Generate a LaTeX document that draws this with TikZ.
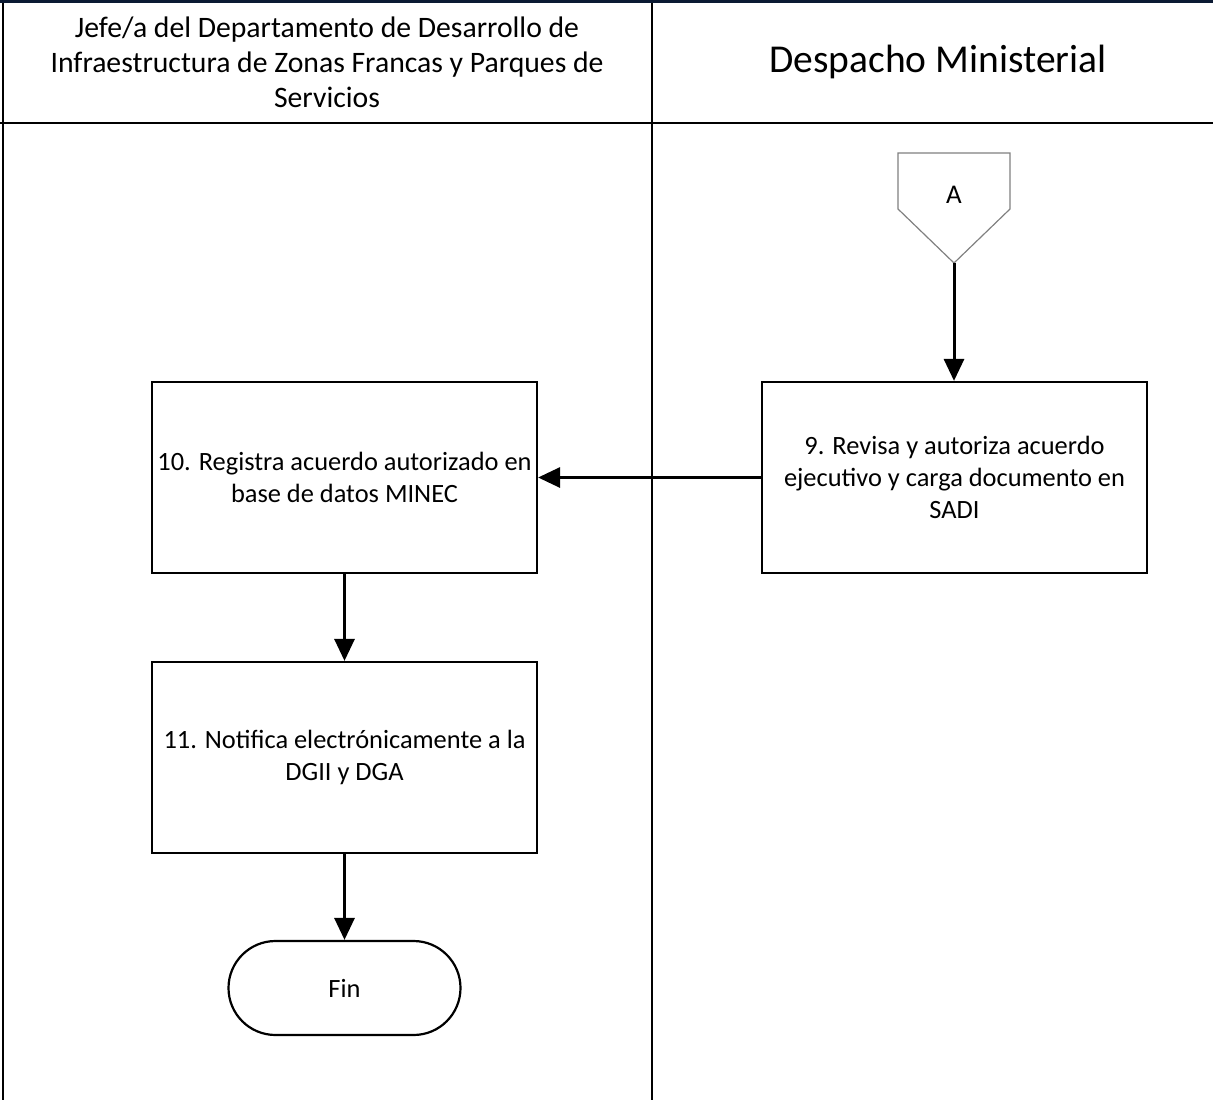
\documentclass[tikz,border=0pt]{standalone}
\usepackage{fontspec}
\setmainfont{Carlito}
\usetikzlibrary{arrows.meta,shapes.misc}
\definecolor{navy}{HTML}{0B1A33}
\tikzset{
  lane/.style={line width=2.2pt, black},
  procbox/.style={draw, line width=2.2pt, minimum width=385pt, minimum height=191pt, inner sep=0pt, align=center, font=\fontsize{26.4}{32}\selectfont},
  flow/.style={line width=3pt, -{Triangle[length=22pt,width=20pt]}},
  terminal/.style={draw, line width=2.2pt, rounded rectangle, minimum width=232pt, minimum height=94pt, inner sep=0pt, font=\fontsize{26.4}{32}\selectfont},
}
\begin{document}
\begin{tikzpicture}[x=1pt,y=-1pt]
\useasboundingbox (0,0) rectangle (1213,1100);
% lanes
\draw[lane] (3,0) -- (3,1100);
\draw[lane] (652,0) -- (652,1100);
\draw[lane] (0,123) -- (1213,123);
\draw[line width=3.5pt, navy] (0,1.5) -- (1213,1.5);
% headers
\node[align=center, font=\fontsize{29.7}{35}\selectfont] (h1) at (327,62) {Jefe/a del Departamento de Desarrollo de\\Infraestructura de Zonas Francas y Parques de\\Servicios};
\node[font=\fontsize{39.5}{44}\selectfont] (h2) at (938,62) {Despacho Ministerial};
% off-page connector
\draw[line width=1.2pt, gray] (898,153) -- (1010,153) -- (1010,209) -- (954,263) -- (898,209) -- cycle;
\node[font=\fontsize{27}{30}\selectfont] (A) at (954,195) {A};
\coordinate (Atip) at (954,263);
% boxes
\node[procbox] (b9) at (954.5,477.5) {9. Revisa y autoriza acuerdo\\ejecutivo y carga documento en\\SADI};
\node[procbox] (b10) at (344.5,477.5) {10. Registra acuerdo autorizado en\\base de datos MINEC};
\node[procbox] (b11) at (344.5,757.5) {11. Notifica electrónicamente a la\\DGII y DGA};
\node[terminal] (fin) at (344.5,988) {Fin};
% flows
\draw[flow] (Atip) -- (Atip |- b9.north);
\draw[flow] (b9.west) -- (b10.east);
\draw[flow] (b10.south) -- (b11.north);
\draw[flow] (b11.south) -- (fin.north);
\end{tikzpicture}
\end{document}
